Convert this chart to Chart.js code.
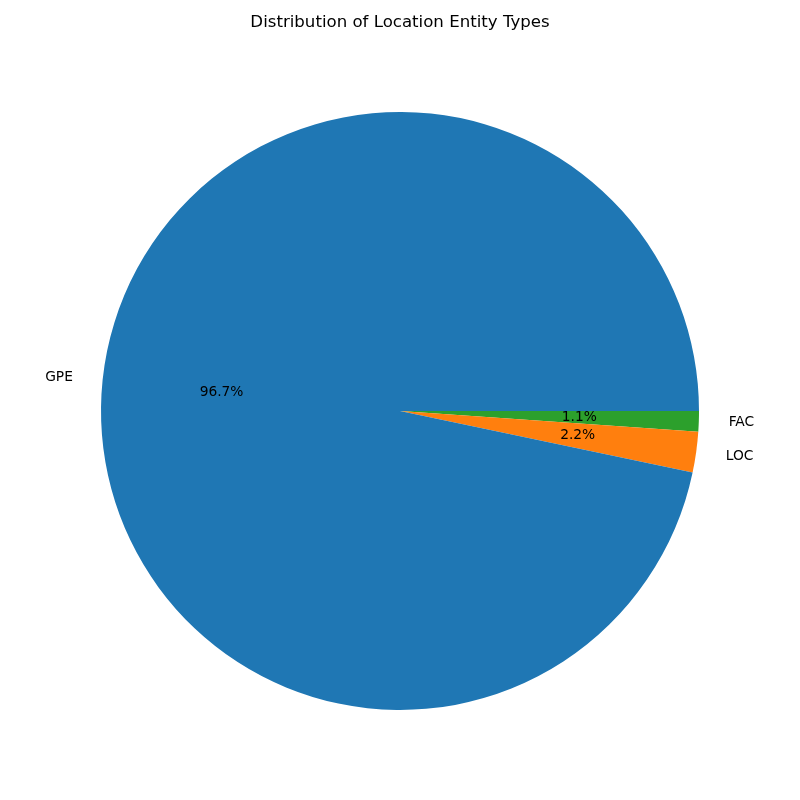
<!DOCTYPE html>
<html>
<head>
<meta charset="utf-8">
<script src="https://cdn.jsdelivr.net/npm/chart.js@4/dist/chart.umd.min.js"></script>
<style>
    body { margin: 0; background: #fff; }
    canvas { display: block; }
</style>
</head>
<body>
<canvas id="pie" width="800" height="800"></canvas>
<script>
// listed clockwise from 3 o'clock, the way matplotlib ends up drawing them
const labels = ["FAC", "LOC", "GPE"];
const shares = [1.1, 2.2, 96.7];
const colors = ["#2ca02c", "#ff7f0e", "#1f77b4"];
const titletext = "Distribution of Location Entity Types";

const fontfamily = "DejaVu Sans, sans-serif";

const slicelabels = {
    id: "slicelabels",
    afterDraw(chart) {
        const c = chart.ctx;
        const meta = chart.getDatasetMeta(0);
        const total = shares.reduce((a, b) => a + b, 0);

        c.save();
        c.fillStyle = "#000";
        c.textBaseline = "middle";
        c.font = `13.8px ${fontfamily}`;

        meta.data.forEach((arc, i) => {
            const mid = (arc.startAngle + arc.endAngle) / 2;
            const r = arc.outerRadius;
            const dx = Math.cos(mid);
            const dy = Math.sin(mid);

            c.textAlign = dx > 0 ? "left" : "right";
            c.fillText(labels[i], arc.x + dx * r * 1.1, arc.y + dy * r * 1.1);

            c.textAlign = "center";
            const pct = ((shares[i] / total) * 100).toFixed(1) + "%";
            c.fillText(pct, arc.x + dx * r * 0.6, arc.y + dy * r * 0.6);
        });

        c.font = `16.6px ${fontfamily}`;
        c.textAlign = "center";
        c.fillText(titletext, chart.width / 2, 23);
        c.restore();
    },
};

new Chart(document.getElementById("pie").getContext("2d"), {
    type: "pie",
    data: {
        labels: labels,
        datasets: [
            {
                data: shares,
                backgroundColor: colors,
                borderWidth: 0,
            },
        ],
    },
    options: {
        responsive: false,
        animation: false,
        devicePixelRatio: 1,
        rotation: 90,
        layout: {
            padding: { top: 112, bottom: 90, left: 101, right: 101 },
        },
        plugins: {
            legend: { display: false },
            tooltip: { enabled: false },
            title: { display: false },
        },
    },
    plugins: [slicelabels],
});
</script>
</body>
</html>
